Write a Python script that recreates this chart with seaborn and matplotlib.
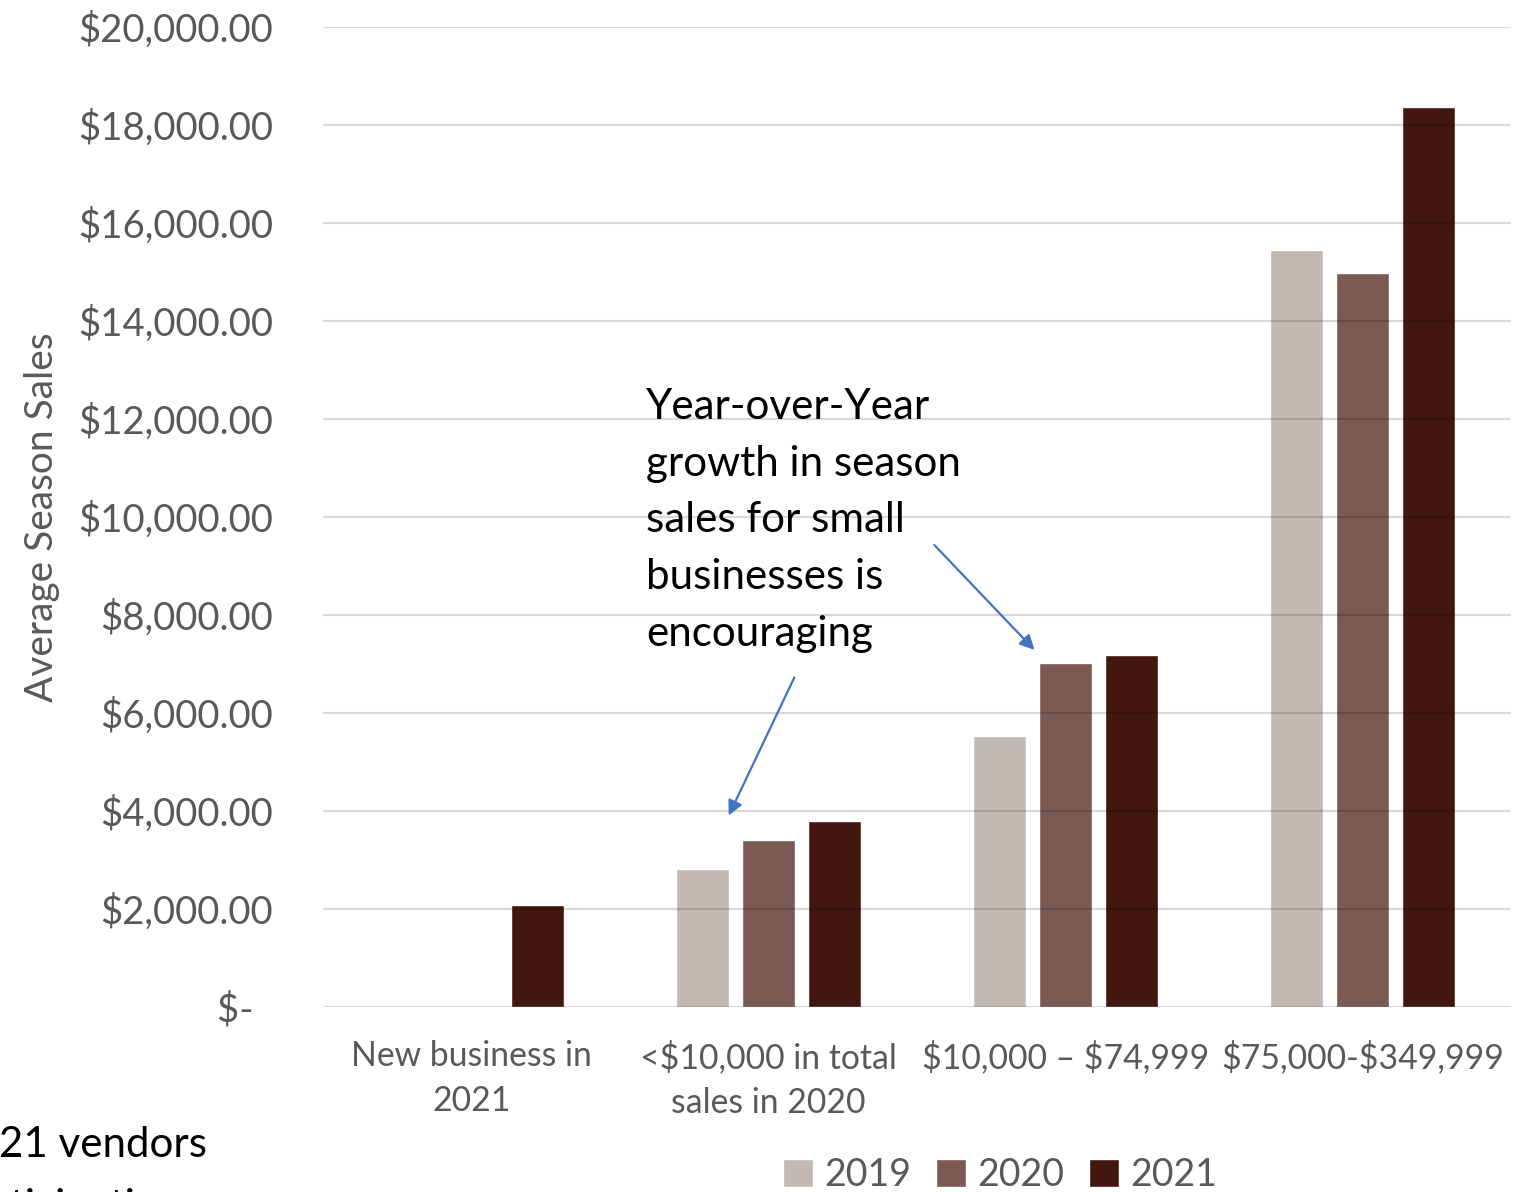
import numpy as np
import pandas as pd
import matplotlib
matplotlib.use("Agg")
import matplotlib.pyplot as plt
import seaborn as sns
from matplotlib.ticker import FuncFormatter

# Average season sales by vendor size segment
segments = ["New business in\n2021", "<$10,000 in total\nsales in 2020",
            "$10,000 \u2013 $74,999", "$75,000-$349,999"]
years = ["2019", "2020", "2021"]
sales_2019 = [np.nan, 2820, 5530, 15450]
sales_2020 = [np.nan, 3410, 7020, 14980]
sales_2021 = [2080, 3800, 7180, 18370]
colors = ["#C4B8B3", "#7A5A53", "#41170F"]

df = pd.DataFrame({
    "segment": segments * 3,
    "year": [y for y in years for _ in segments],
    "sales": sales_2019 + sales_2020 + sales_2021,
})

sns.set_theme(style="white")
plt.rcParams["font.family"] = ["Lato", "DejaVu Sans"]
plt.rcParams["text.parse_math"] = False

fig = plt.figure(figsize=(15.25, 11.92), dpi=100)
ax = fig.add_axes([323 / 1525, 1 - 1007 / 1192, (1511 - 323) / 1525, (1007 - 27) / 1192])

sns.barplot(data=df, x="segment", y="sales", hue="year", order=segments,
            hue_order=years, palette=colors, saturation=1,
            width=0.667, gap=0.21, ax=ax, legend=True)

ax.set_xlim(-0.5, 3.5)
ax.set_ylim(0, 20000)
ax.set_yticks(np.arange(0, 20001, 2000))

def money(v, _):
    return "$-  " if v == 0 else f"${v:,.2f}"

ax.yaxis.set_major_formatter(FuncFormatter(money))
ax.grid(axis="y", color="black", alpha=0.15, linewidth=1.6)
ax.set_axisbelow(False)
for s in ax.spines.values():
    s.set_visible(False)

grey = "#595959"
ax.tick_params(axis="y", length=0, pad=36, labelsize=27.5, labelcolor=grey)
ax.tick_params(axis="x", length=0, pad=24, labelsize=24.3, labelcolor=grey)
for lbl in ax.get_xticklabels():
    lbl.set_linespacing(1.48)
ax.set_xlabel("")
ax.set_ylabel("Average Season Sales", fontsize=28, color=grey)
ax.yaxis.set_label_coords(-0.221, 0.5)

leg = ax.legend(loc="center", bbox_to_anchor=(1000 / 1525, 1 - 1175 / 1192),
                bbox_transform=fig.transFigure, ncol=3, frameon=False,
                fontsize=27, handlelength=0.8, handleheight=0.8,
                handletextpad=0.3, columnspacing=0.66)
for t in leg.get_texts():
    t.set_color(grey)

# callout text and arrows
ax.text(0.589, 12640, "Year-over-Year\ngrowth in season\nsales for small\nbusinesses is\nencouraging",
        fontsize=30.3, color="black", ha="left", va="top", linespacing=1.61, zorder=0.5)
arrow = dict(arrowstyle="-|>", color="#4472C4", lw=1.6, mutation_scale=22)
ax.annotate("", xy=(0.862, 3857), xytext=(1.091, 6776), arrowprops=arrow)
ax.annotate("", xy=(1.902, 7245), xytext=(1.552, 9469), arrowprops=arrow)

fig.text(207 / 1525, 1 - 1126 / 1192, "2021 vendors\nparticipating", fontsize=30.3,
         color="black", ha="right", va="top", multialignment="left", linespacing=1.78)

fig.savefig("out.png", dpi=100)
